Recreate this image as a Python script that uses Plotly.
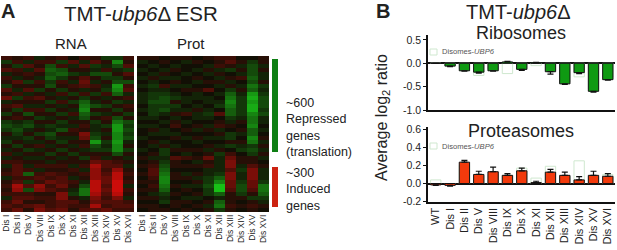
import plotly.graph_objects as go

W, H = 617, 250
heat_labels = ["Dis I","Dis II","Dis V","Dis VIII","Dis IX","Dis X","Dis XI","Dis XII","Dis XIII","Dis XIV","Dis XV","Dis XVI"]
bar_labels = ["WT"] + heat_labels

rna = [
 [ 2, 1, 2,-1, 1, 2, 0, 2, 1,-2,-2, 2],
 [-2, 2,-1, 2, 2,-2, 3,-1, 3, 1,-6, 1],
 [ 1,-2, 3, 1,-3, 2,-1, 3,-2,-1,-3, 3],
 [ 3, 2,-1, 3,-4,-3, 1, 1,-1, 2,-1,-2],
 [-1, 1, 2, 1,-3,-4,-2,-1,-3,-3, 1, 3],
 [ 2,-1, 1,-1,-4,-2, 1, 3, 1,-2,-2, 1],
 [ 1, 3,-2, 2,-2, 2,-1, 4,-1, 1,-3,-3],
 [-2, 1, 1, 1,-3, 1, 2, 3, 2,-1,-7, 2],
 [ 3,-1, 3,-2, 1,-2, 1,-1, 1,-2,-6, 3],
 [ 1, 2,-1, 1,-1, 2,-2, 2,-2, 2,-4,-1],
 [ 4,-2, 2, 3, 1,-1, 1,-2, 1,-1, 1, 2],
 [-1, 1, 1, 1,-2, 2,-2,-4,-1, 1,-2,-1],
 [ 2, 3,-1,-1, 1,-1, 1,-5,-3,-2, 1, 2],
 [ 1,-2, 2, 2,-2, 1,-1,-6, 1, 1,-2, 1],
 [-2, 1,-3, 1, 1,-2, 2,-4,-2,-1, 1,-2],
 [ 1, 2, 1,-2,-1, 1,-1,-3, 1, 2,-3, 1],
 [-2,-1,-2, 1, 1,-2, 1, 1,-2, 1,-5,-3],
 [-3,-2,-3,-1,-2,-1,-1, 2,-1,-2,-7,-2],
 [-2,-3,-1, 1,-1,-3, 2, 1,-1, 1,-7,-3],
 [ 1,-2, 1,-2,-3, 1, 1, 5,-2,-1,-6,-2],
 [-1,-1,-2, 1,-2,-1,-1, 4,-3, 1,-6,-3],
 [-2, 1,-1,-1, 1,-2, 1, 1,-7,-2,-7,-1],
 [ 1,-2, 1, 2,-1, 1,-1, 2,-3,-1,-6, 1],
 [-1, 1,-2,-1, 1,-2, 1,-1,-2,-2,-6,-2],
 [ 2,-1, 1, 1,-2, 1,-2, 1, 1, 1,-3, 1],
 [-1, 1,-1,-1, 1,-1, 1,-2, 2,-1, 1,-1],
 [ 2, 2, 1, 1,-1, 1, 1, 1, 4, 3, 2, 1],
 [-1, 3,-1, 2, 2, 2,-1, 2, 7, 3, 3,-1],
 [ 1, 3, 2,-1, 1, 1, 2,-1, 6, 2, 6, 1],
 [ 2, 3,-4, 2, 3, 2, 1, 2, 6, 3, 8, 2],
 [-1, 2, 2, 3, 2, 3,-1, 1, 6, 4, 8, 1],
 [ 1, 3,-2, 2, 4, 3, 2,-1, 8, 4, 9, 2],
 [ 2, 7, 3, 6, 2, 4, 1,-3, 8, 3, 9,-1],
 [ 1, 6,-3, 5, 3, 2,-1,-5, 8, 4, 9, 2],
 [ 2, 2, 2, 1, 1, 5,-2,-5, 7, 3, 8, 1],
 [-1, 3, 3, 2, 2, 5, 1,-1, 5, 2, 5,-1],
 [ 2, 4, 1, 1, 2, 3, 3, 1, 4, 3, 3, 2],
 [ 3, 2, 3, 4, 2, 3, 2, 2, 7, 2, 3, 3],
 [ 2, 4, 1, 5, 3, 4, 1, 3, 3, 4, 2, 2],
]
prot = [
 [ 1, 1, 0, 1, 1, 0, 1, 2, 2, 0, 0, 1],
 [-1, 0, 1, 0,-1, 1, 0, 1, 3, 1,-2, 1],
 [ 0,-1, 0,-1, 0, 0,-1, 2, 1,-1,-3,-1],
 [-1, 0,-1, 1, 0,-1, 1,-1,-2, 1,-3, 1],
 [ 0,-1, 1, 0,-1, 0,-1, 1, 0,-1,-3,-1],
 [-1, 1,-1,-1, 0, 1, 0,-1, 1, 2,-4,-1],
 [ 0,-1, 0, 1, 0,-1, 1, 1,-1, 0,-3, 1],
 [-1,-2, 2,-1,-1, 0, 0,-1, 1,-1,-5,-2],
 [ 0,-1,-1, 0, 1, 1, 3, 0,-2, 1,-4,-1],
 [-1,-2,-2,-1, 0,-1, 0,-1,-4,-1,-7,-2],
 [-1,-2,-3,-2,-1,-1,-1, 0,-5,-2,-8,-3],
 [-1,-3,-3, 1,-1, 0,-1,-1,-6,-2,-7,-3],
 [ 0,-2,-2,-2, 0,-1, 0,-2,-5,-2,-8,-3],
 [-1,-2,-3,-1,-1, 1,-1, 0,-4,-2,-8,-2],
 [ 0,-2,-1, 1, 2,-1,-2, 3,-4,-2,-6,-3],
 [-1,-1, 0,-1, 0,-1,-1, 0,-2,-1,-5,-1],
 [ 0, 0,-1, 1,-1, 0, 0, 1,-1, 1,-5,-1],
 [-1,-1, 0, 2, 0, 1,-1, 2, 1, 0,-6, 0],
 [ 0, 1,-1, 0, 1,-1, 1,-1, 0, 1,-4,-1],
 [ 0,-1,-1,-1, 0, 0, 0, 1,-2,-1,-4, 0],
 [-1, 0, 0, 1,-1, 1,-1,-1,-2, 0,-6, 1],
 [ 0, 1,-1, 0, 0,-1, 0, 0, 1, 1,-5,-1],
 [ 0,-1, 1,-1, 0, 0, 1,-1,-2,-1,-2, 1],
 [-1, 0,-2, 1, 1, 1,-1, 1, 0,-2,-3,-1],
 [ 0, 1,-2, 0,-1, 0, 1,-2, 2, 0,-2, 1],
 [ 1,-1,-1, 3, 2, 1, 4,-1, 4, 1, 1,-1],
 [ 0, 1,-2, 1, 0,-1, 1,-1, 5, 1, 1, 0],
 [ 1, 2,-3, 1, 1, 1, 2,-1, 5,-1, 3, 1],
 [ 0, 3,-4, 0, 0, 0,-1,-1, 3,-2, 5,-1],
 [ 1, 3,-5, 1,-1, 1,-1,-2, 5,-1, 5,-1],
 [ 0, 2,-6, 1, 1,-1,-2,-4, 5,-1, 5,-1],
 [ 1, 1,-6, 0, 0, 1,-2,-6, 4,-2, 4,-2],
 [ 0, 2,-5, 1,-1,-1,-3,-9, 4,-3, 4,-5],
 [ 1, 1,-4, 0, 1, 0,-2,-9, 3,-3, 3,-5],
 [ 0,-1,-2, 1, 0, 1,-2,-4, 1,-2, 1,-4],
 [ 1, 1,-1, 0,-1,-1, 0,-1, 1, 1,-2,-2],
 [ 0, 0,-2, 1, 1, 0, 1,-4, 1, 0, 1,-1],
 [ 1, 1, 0, 1, 0, 1,-1,-5, 2, 1, 2, 1],
 [ 0, 1, 1, 0, 1, 0, 1,-2, 1, 0, 1, 0],
]
rows = list(range(len(rna)))

rib_avg = [0.0,-0.06,-0.16,-0.19,-0.16,0.03,-0.13,0.01,-0.18,-0.44,-0.20,-0.60,-0.35]
rib_err = [0.0, 0.01, 0.01, 0.02, 0.01,0.01, 0.02,0.01, 0.05, 0.01, 0.02, 0.02, 0.01]
rib_dis = [0.0,-0.03,-0.12,-0.26,-0.12,-0.22,-0.10,-0.05,-0.15,-0.40,-0.29,-0.55,-0.30]
pro_avg = [-0.015,-0.02,0.235,0.10,0.13,0.09,0.14,0.01,0.125,0.09,0.04,0.09,0.08]
pro_err = [0.005,0.01,0.02,0.035,0.05,0.02,0.03,0.015,0.03,0.035,0.035,0.045,0.03]
pro_dis = [0.04,0.0,0.20,0.08,0.10,0.09,0.17,0.06,0.19,0.08,0.25,0.07,0.10]

FONT = "Liberation Sans"
GREEN, RED, PALE = "#0f9a12", "#f23a0c", "#cfe8cf"
scale = [[0, "rgb(25,210,25)"], [0.5, "rgb(18,15,5)"], [1, "rgb(225,12,10)"]]

def dx(a, b): return [a / W, b / W]
def dy(top, bottom): return [1 - bottom / H, 1 - top / H]

fig = go.Figure()
for z, xa, ya in ((rna, "x", "y"), (prot, "x2", "y2")):
    fig.add_trace(go.Heatmap(z=z, x=heat_labels, y=rows, zmin=-10, zmax=10, colorscale=scale,
                             showscale=False, xaxis=xa, yaxis=ya, hoverinfo="skip", zsmooth=False))

def bars(vals, errs, disomes, color, xa, ya):
    fig.add_trace(go.Bar(x=bar_labels, y=disomes, xaxis=xa, yaxis=ya, width=0.72, name="Disomes-UBP6",
                         marker=dict(color="rgba(0,0,0,0)", line=dict(color=PALE, width=1)), showlegend=False))
    plus = [e if v >= 0 else 0 for v, e in zip(vals, errs)]
    minus = [e if v < 0 else 0 for v, e in zip(vals, errs)]
    fig.add_trace(go.Bar(x=bar_labels, y=vals, xaxis=xa, yaxis=ya, width=0.72, showlegend=False,
                         marker=dict(color=color, line=dict(color="#111", width=1)),
                         error_y=dict(type="data", symmetric=False, array=plus, arrayminus=minus,
                                      color="#111", thickness=1.2, width=3)))

bars(rib_avg, rib_err, rib_dis, GREEN, "x3", "y3")
bars(pro_avg, pro_err, pro_dis, RED, "x4", "y4")

heat_x = dict(type="category", tickangle=-90, tickfont=dict(size=8.5, family=FONT, color="#222"),
              ticks="", showgrid=False, zeroline=False, showline=False, ticklen=0)
heat_y = dict(autorange="reversed", showticklabels=False, ticks="", showgrid=False, zeroline=False)
bar_x = dict(type="category", range=[-0.54, 12.5], showgrid=False, zeroline=False, showline=True,
             linecolor="#111", linewidth=1.5, ticks="")
bar_y = dict(showgrid=False, showline=True, linecolor="#111", linewidth=1.5, ticks="outside", ticklen=3,
             tickwidth=1.2, tickcolor="#111", tickfont=dict(size=10.5, family=FONT, color="#222"),
             zeroline=True, zerolinecolor="#111", zerolinewidth=1.5)

def note(text, x, y, size, xanchor="center", color="#222", **kw):
    return dict(text=text, x=x / W, y=1 - y / H, xref="paper", yref="paper", showarrow=False,
                xanchor=xanchor, yanchor="middle", font=dict(size=size, family=FONT, color=color), **kw)

texts = [
    note("<b>A</b>", 8, 11, 20), note("<b>B</b>", 383, 11, 20),
    note("TMT-<i>ubp6</i>Δ ESR", 141, 13, 20.5),
    note("RNA", 71, 44, 15), note("Prot", 191, 44, 15),
    note("~600<br>Repressed<br>genes<br>(translation)", 284, 127, 12.5, "left", align="left"),
    note("~300<br>Induced<br>genes", 284, 189, 12.5, "left", align="left"),
    note("TMT-<i>ubp6</i>Δ", 518, 12, 20),
    note("Ribosomes", 521, 33, 18), note("Proteasomes", 521, 131, 18),
    note("Average log<sub>2</sub> ratio", 382, 118, 16, textangle=-90),
    note("Disomes-<i>UBP6</i>", 440, 52, 7.6, "left", color="#555"),
    note("Disomes-<i>UBP6</i>", 440, 146, 7.6, "left", color="#555"),
]

def paper_rect(x0, x1, top, bottom, **style):
    return dict(type="rect", xref="paper", yref="paper", x0=x0 / W, x1=x1 / W,
                y0=1 - bottom / H, y1=1 - top / H, **style)

sidebars = [
    paper_rect(272, 278, 59, 152, fillcolor="#0e7f14", line_width=0),
    paper_rect(272, 278, 167, 207, fillcolor="#cc2211", line_width=0),
    paper_rect(430, 437, 49, 55, fillcolor="rgba(0,0,0,0)", line=dict(color=PALE, width=1)),
    paper_rect(430, 437, 143, 149, fillcolor="rgba(0,0,0,0)", line=dict(color=PALE, width=1)),
]

fig.update_layout(
    width=W, height=H, margin=dict(l=0, r=0, t=0, b=0, autoexpand=False), paper_bgcolor="white", plot_bgcolor="white",
    barmode="overlay", annotations=texts, shapes=sidebars, showlegend=False,
    xaxis=dict(domain=dx(1, 134), **heat_x), yaxis=dict(domain=dy(56, 212), **heat_y),
    xaxis2=dict(domain=dx(137, 269), **heat_x), yaxis2=dict(domain=dy(56, 212), **heat_y),
    xaxis3=dict(domain=dx(428, 615), anchor="y3", showticklabels=False, **bar_x),
    yaxis3=dict(domain=dy(35.3, 110), range=[-1, 0.6], anchor="x3", tickvals=[-1, -0.5, 0, 0.5],
                ticktext=["-1.0", "-0.5", "0.0", "0.5"], **bar_y),
    xaxis4=dict(domain=dx(428, 615), anchor="y4", tickangle=-90,
                tickfont=dict(size=11, family=FONT, color="#222"), **bar_x),
    yaxis4=dict(domain=dy(127.2, 201.7), range=[-0.2, 0.62], anchor="x4", tickvals=[-0.2, 0, 0.2, 0.4, 0.6],
                ticktext=["-0.2", "0.0", "0.2", "0.4", "0.6"], **bar_y),
)
fig.write_html("out.html", config={"displayModeBar": False},
               post_script="document.body.style.margin='0';document.documentElement.style.overflow='hidden';")
